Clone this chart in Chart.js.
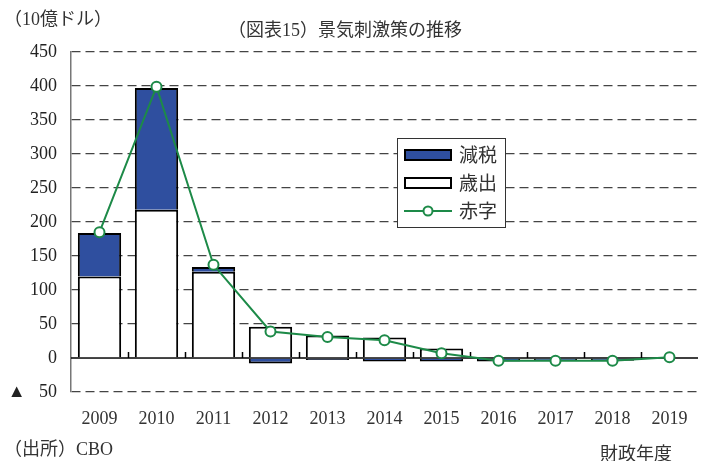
<!DOCTYPE html>
<html>
<head>
<meta charset="utf-8">
<script src="https://cdn.jsdelivr.net/npm/chart.js@4.4.0/dist/chart.umd.min.js"></script>
<style>
  html, body { margin: 0; padding: 0; background: #fff; }
  #wrap { position: relative; width: 705px; height: 461px; }
  .txt { position: absolute; color: #333; font-family: "Liberation Serif", "Noto Sans CJK JP", serif; white-space: nowrap; }
</style>
</head>
<body>
<div id="wrap">
  <canvas id="c" width="705" height="461"></canvas>
  <div class="txt" style="left:4px;top:4px;font-size:18px;">（10億ドル）</div>
  <div class="txt" style="left:228px;top:15px;font-size:18px;">（図表15）景気刺激策の推移</div>
  <div class="txt" style="left:4px;top:434px;font-size:18px;">（出所）CBO</div>
  <div class="txt" style="left:600px;top:439px;font-size:18px;">財政年度</div>
</div>
<script>
// fiscal years
const years = ['2009', '2010', '2011', '2012', '2013', '2014', '2015', '2016', '2017', '2018', '2019'];
// spending (歳出), tax cuts (減税), deficit (赤字) — $bn x10
const spending = [120, 218, 127, 46, 33, 30, 14, 1, 1, 0, 0];
const taxCuts = [64, 179, 7, -8, -3, -5, -5, -5, -4, -4, 0];
const deficit = [185, 399, 137, 39, 31, 26, 7, -4, -4, -4, 1];
const yTicks = [-50, 0, 50, 100, 150, 200, 250, 300, 350, 400, 450];

const BLUE = '#2f4f9f';
const GREEN = '#1d8a48';
const FONT = '"Liberation Serif", "Noto Sans CJK JP", serif';
const JP = '"Noto Sans CJK JP", sans-serif';

// zero line + small ticks between categories, and the boxed legend
const decor = {
  id: 'decor',
  beforeDatasetsDraw(chart) {
    const { ctx, chartArea: a, scales: { x, y } } = chart;
    const y0 = y.getPixelForValue(0);
    ctx.save();
    ctx.strokeStyle = '#000';
    ctx.lineWidth = 1.5;
    ctx.beginPath();
    ctx.moveTo(a.left, y0); ctx.lineTo(a.right, y0);
    for (let i = 0; i < years.length - 1; i++) {
      const px = Math.round((x.getPixelForValue(i) + x.getPixelForValue(i + 1)) / 2) + 0.5;
      ctx.moveTo(px, y0); ctx.lineTo(px, y0 - 6);
    }
    ctx.stroke();
    ctx.restore();
  },
  afterDraw(chart) {
    const { ctx } = chart;
    const bx = 397, by = 138, bw = 108, bh = 89;
    ctx.save();
    ctx.fillStyle = '#fff';
    ctx.fillRect(bx, by, bw, bh);
    ctx.strokeStyle = '#333';
    ctx.lineWidth = 1;
    ctx.strokeRect(bx + 0.5, by + 0.5, bw, bh);
    ctx.font = '19px ' + JP;
    ctx.textBaseline = 'middle';
    const rows = [
      { label: '減税', y: 155, kind: 'bar', fill: BLUE },
      { label: '歳出', y: 183, kind: 'bar', fill: '#fff' },
      { label: '赤字', y: 211, kind: 'line' },
    ];
    rows.forEach((r) => {
      if (r.kind === 'bar') {
        ctx.fillStyle = r.fill;
        ctx.fillRect(405, r.y - 5, 46, 10);
        ctx.strokeStyle = '#000';
        ctx.lineWidth = 2;
        ctx.strokeRect(405, r.y - 5, 46, 10);
      } else {
        ctx.strokeStyle = GREEN;
        ctx.lineWidth = 2;
        ctx.beginPath(); ctx.moveTo(404, r.y); ctx.lineTo(452, r.y); ctx.stroke();
        ctx.fillStyle = '#fff';
        ctx.beginPath(); ctx.arc(428, r.y, 4.5, 0, Math.PI * 2); ctx.fill(); ctx.stroke();
      }
      ctx.fillStyle = '#333';
      ctx.fillText(r.label, 459, r.y);
    });
    ctx.restore();
  },
};

new Chart(document.getElementById('c'), {
  data: {
    labels: years,
    datasets: [
      { type: 'bar', label: '歳出', data: spending, backgroundColor: '#fff', borderColor: '#000', borderWidth: 2,
        stack: 's', barPercentage: 0.76, categoryPercentage: 1, order: 1 },
      { type: 'bar', label: '減税', data: taxCuts, backgroundColor: BLUE, borderColor: '#000', borderWidth: 2,
        stack: 's', barPercentage: 0.76, categoryPercentage: 1, order: 1 },
      { type: 'line', label: '赤字', data: deficit, borderColor: GREEN, borderWidth: 2, backgroundColor: '#fff',
        pointRadius: 5, pointBorderWidth: 2, pointBackgroundColor: '#fff', pointBorderColor: GREEN, tension: 0, order: 0 },
    ],
  },
  options: {
    responsive: false,
    animation: false,
    layout: { padding: { top: 52, right: 0, left: 0, bottom: 0 } },
    plugins: { legend: { display: false }, tooltip: { enabled: false }, title: { display: false } },
    scales: {
      x: {
        stacked: true,
        grid: { display: false },
        border: { display: false },
        ticks: { color: '#333', font: { family: FONT, size: 18 }, padding: 8, maxRotation: 0, autoSkip: false },
        afterFit(s) { s.height = 69; },
      },
      y: {
        stacked: true,
        min: -50, max: 450,
        afterBuildTicks(s) { s.ticks = yTicks.map((v) => ({ value: v })); },
        grid: {
          color: (c) => (c.tick && c.tick.value === 0 ? 'rgba(0,0,0,0)' : '#444'),
          lineWidth: 1.3, drawTicks: false,
        },
        border: { display: true, color: '#777', width: 1.5, dash: [9, 5] },
        ticks: {
          color: '#222', font: { family: FONT, size: 18 }, padding: 14,
          callback: (v) => (v < 0 ? '▲   ' + Math.abs(v) : String(v)),
        },
        afterFit(s) { s.width = 71; },
      },
    },
  },
  plugins: [decor],
});
</script>
</body>
</html>
